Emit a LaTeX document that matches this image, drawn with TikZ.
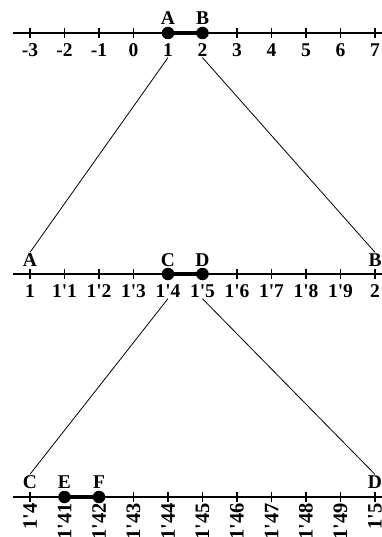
\documentclass[tikz,border=0pt]{standalone}
\usepackage{fontspec}
\newfontfamily\lbl{Liberation Serif}
\begin{document}
\begin{tikzpicture}[x=1pt,y=-1pt,
  axis/.style={line width=1.8pt},
  tickmark/.style={line width=1.2pt},
  seg/.style={line width=3.8pt},
  dot/.style={circle,fill=black,inner sep=0pt,minimum size=12.5pt},
  num/.style={font=\lbl\bfseries\fontsize{19.5}{19.5}\selectfont,inner sep=1pt},
  rnum/.style={font=\lbl\bfseries\fontsize{20.5}{20.5}\selectfont,inner sep=1pt,rotate=90,anchor=east},
  lett/.style={font=\lbl\bfseries\fontsize{19.5}{19.5}\selectfont,inner sep=1pt},
  conn/.style={line width=0.8pt}]
\useasboundingbox (0,0) rectangle (382,537);
% ---------- top axis ----------
\coordinate (tL) at (13,33);
\coordinate (tR) at (382,33);
\draw[axis] (tL) -- (tR);
\foreach \lab [count=\i from 0] in {-3,-2,-1,0,1,2,3,4,5,6,7} {
  \coordinate (t\i) at ({30+34.5*\i},33);
  \draw[tickmark] ([yshift=-5pt]t\i) -- ([yshift=5pt]t\i);
  \node[num] (tn\i) at ({30+34.5*\i},50) {\lab};
}
\draw[seg] (t4) -- (t5);
\node[dot] (tdA) at (t4) {};
\node[dot] (tdB) at (t5) {};
\node[lett] (tA) at ({30+34.5*4},18) {A};
\node[lett] (tB) at ({30+34.5*5},18) {B};
% ---------- middle axis ----------
\coordinate (mL) at (13,274);
\coordinate (mR) at (382,274);
\draw[axis] (mL) -- (mR);
\foreach \lab [count=\i from 0] in {1,1'1,1'2,1'3,1'4,1'5,1'6,1'7,1'8,1'9,2} {
  \coordinate (m\i) at ({30+34.5*\i},274);
  \draw[tickmark] ([yshift=-5pt]m\i) -- ([yshift=5pt]m\i);
  \node[num] (mn\i) at ({30+34.5*\i},291) {\lab};
}
\draw[seg] (m4) -- (m5);
\node[dot] (mdC) at (m4) {};
\node[dot] (mdD) at (m5) {};
\node[lett] (mA) at ({30+34.5*0},260) {A};
\node[lett] (mC) at ({30+34.5*4},260) {C};
\node[lett] (mD) at ({30+34.5*5},260) {D};
\node[lett] (mB) at ({30+34.5*10},260) {B};
% ---------- bottom axis ----------
\coordinate (bL) at (13,497);
\coordinate (bR) at (382,497);
\draw[axis] (bL) -- (bR);
\foreach \lab [count=\i from 0] in {1'4,1'41,1'42,1'43,1'44,1'45,1'46,1'47,1'48,1'49,1'5} {
  \coordinate (b\i) at ({30+34.5*\i},497);
  \draw[tickmark] ([yshift=-5pt]b\i) -- ([yshift=5pt]b\i);
  \node[rnum] (bn\i) at ({30+34.5*\i},502) {\lab};
}
\draw[seg] (b1) -- (b2);
\node[dot] (bdE) at (b1) {};
\node[dot] (bdF) at (b2) {};
\node[lett] (bC) at ({30+34.5*0},482) {C};
\node[lett] (bE) at ({30+34.5*1},482) {E};
\node[lett] (bF) at ({30+34.5*2},482) {F};
\node[lett] (bD) at ({30+34.5*10},482) {D};
% ---------- connectors ----------
\draw[conn] (tn4.south) -- (mA.north);
\draw[conn] (tn5.south) -- (mB.north);
\draw[conn] (mn4.south) -- (bC.north);
\draw[conn] (mn5.south) -- (bD.north);
\end{tikzpicture}
\end{document}
